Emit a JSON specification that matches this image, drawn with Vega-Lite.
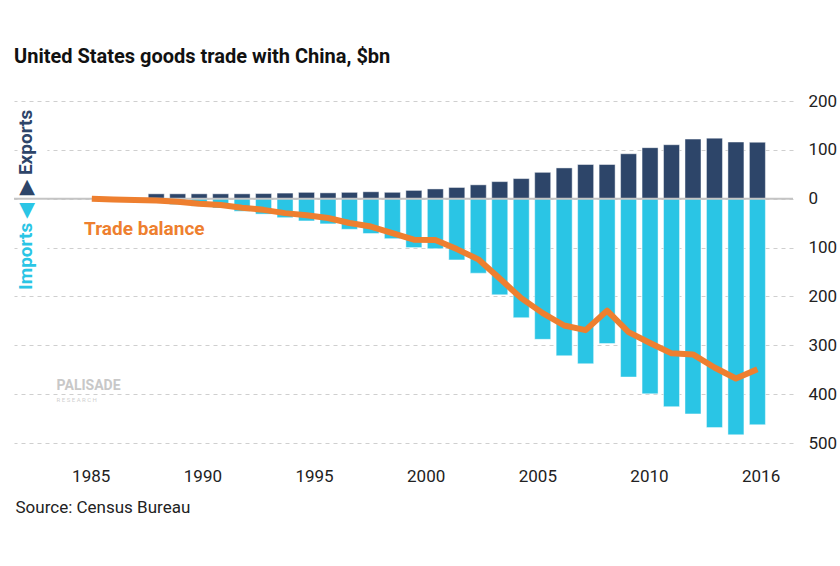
{
  "$schema": "https://vega.github.io/schema/vega-lite/v6.json",
  "autosize": "none",
  "width": 779,
  "height": 342,
  "padding": {"left": 14, "top": 101, "right": 47, "bottom": 123},
  "background": "white",
  "config": {"view": {"stroke": null}, "font": "Roboto"},
  "title": {"text": "United States goods trade with China, $bn", "anchor": "start", "fontSize": 20, "fontWeight": "bold", "font": "Roboto", "color": "#111111", "offset": 25, "dx": 1},
  "data": {"values": [
    {"year": 1985, "exports": null, "imports": null, "balance": -0.1},
    {"year": 1986, "exports": null, "imports": null, "balance": -1.7},
    {"year": 1987, "exports": null, "imports": null, "balance": -2.8},
    {"year": 1988, "exports": 10, "imports": -8.5, "balance": -3.5},
    {"year": 1989, "exports": 10, "imports": -12.0, "balance": -6.2},
    {"year": 1990, "exports": 10, "imports": -15.2, "balance": -10.4},
    {"year": 1991, "exports": 10, "imports": -19.0, "balance": -12.7},
    {"year": 1992, "exports": 10, "imports": -25.7, "balance": -18.3},
    {"year": 1993, "exports": 10.5, "imports": -31.5, "balance": -22.8},
    {"year": 1994, "exports": 11.5, "imports": -38.8, "balance": -29.5},
    {"year": 1995, "exports": 13, "imports": -45.5, "balance": -33.8},
    {"year": 1996, "exports": 12, "imports": -51.5, "balance": -39.5},
    {"year": 1997, "exports": 13, "imports": -62.6, "balance": -49.7},
    {"year": 1998, "exports": 14.2, "imports": -71.2, "balance": -56.9},
    {"year": 1999, "exports": 13.1, "imports": -81.8, "balance": -70.5},
    {"year": 2000, "exports": 17, "imports": -100.0, "balance": -83.8},
    {"year": 2001, "exports": 20, "imports": -102.3, "balance": -84.5},
    {"year": 2002, "exports": 23, "imports": -125.2, "balance": -103.1},
    {"year": 2003, "exports": 28.4, "imports": -152.4, "balance": -124.1},
    {"year": 2004, "exports": 35, "imports": -196.7, "balance": -163.5},
    {"year": 2005, "exports": 41.2, "imports": -243.5, "balance": -203.5},
    {"year": 2006, "exports": 54, "imports": -287.8, "balance": -234.1},
    {"year": 2007, "exports": 63, "imports": -321.4, "balance": -259.5},
    {"year": 2008, "exports": 70, "imports": -337.8, "balance": -269.0},
    {"year": 2009, "exports": 70, "imports": -296.4, "balance": -229.0},
    {"year": 2010, "exports": 92, "imports": -365.0, "balance": -273.0},
    {"year": 2011, "exports": 104.5, "imports": -399.4, "balance": -295.3},
    {"year": 2012, "exports": 110.5, "imports": -425.6, "balance": -316.5},
    {"year": 2013, "exports": 122, "imports": -440.4, "balance": -318.7},
    {"year": 2014, "exports": 124, "imports": -468.5, "balance": -345.5},
    {"year": 2015, "exports": 116, "imports": -483.2, "balance": -368.0},
    {"year": 2016, "exports": 115.6, "imports": -462.6, "balance": -349.0}
  ]},
  "layer": [
    {
      "mark": {"type": "bar", "width": 16, "color": "#2d4569", "stroke": "#ffffff", "strokeOpacity": 0.45, "strokeWidth": 1},
      "encoding": {
        "x": {"field": "year", "type": "quantitative",
          "scale": {"domain": [1981.609, 2017.425], "nice": false, "zero": false},
          "axis": {
            "values": [1984.95, 1990.15, 1995.35, 2000.55, 2005.75, 2010.95, 2016.15],
            "labelExpr": "['1985','1990','1995','2000','2005','2010','2016'][round((datum.value-1984.95)/5.2)]",
            "labelFontSize": 17, "labelColor": "#222222", "labelFont": "Roboto", "labelPadding": 25, "labelBaseline": "top",
            "ticks": false, "domain": false, "grid": false,
            "title": "Source: Census Bureau", "titleFontSize": 17, "titleFontWeight": "normal", "titleColor": "#222222", "titleFont": "Roboto",
            "titleAnchor": "start", "titleAlign": "left", "titleX": 1, "titleY": 64, "titleBaseline": "middle"
          }
        },
        "y": {"field": "exports", "type": "quantitative",
          "scale": {"domain": [-500, 200], "nice": false, "zero": false},
          "axis": {
            "orient": "right", "values": [-500, -400, -300, -200, -100, 0, 100, 200],
            "labelExpr": "format(abs(datum.value), 'd')",
            "grid": true, "gridDash": [4, 4], "gridColor": "#cfcfcf", "gridWidth": 1,
            "domain": false, "ticks": false, "labelPadding": 15, "labelFontSize": 17, "labelColor": "#222222", "labelFont": "Roboto",
            "title": null
          }
        }
      }
    },
    {
      "mark": {"type": "bar", "width": 16, "color": "#2ac5e5", "stroke": "#ffffff", "strokeOpacity": 0.45, "strokeWidth": 1},
      "encoding": {
        "x": {"field": "year", "type": "quantitative"},
        "y": {"field": "imports", "type": "quantitative"}
      }
    },
    {
      "data": {"values": [{}]},
      "mark": {"type": "rect", "color": "#ffffff"},
      "encoding": {
        "x": {"datum": 1981.609},
        "x2": {"datum": 1982.93},
        "y": {"datum": -190},
        "y2": {"datum": 185}
      }
    },
    {
      "data": {"values": [{}]},
      "mark": {"type": "rule", "color": "#c4c4c4", "strokeWidth": 2},
      "encoding": {"y": {"datum": 0}}
    },
    {
      "mark": {"type": "line", "color": "#ee7f2f", "strokeWidth": 6, "strokeCap": "butt", "strokeJoin": "round"},
      "encoding": {
        "x": {"field": "year", "type": "quantitative"},
        "y": {"field": "balance", "type": "quantitative"}
      }
    },
    {
      "data": {"values": [{}]},
      "mark": {"type": "text", "text": "▶ Exports", "angle": 270, "align": "left", "baseline": "middle", "fontSize": 19, "fontWeight": "bold", "color": "#2d4569"},
      "encoding": {"x": {"datum": 1981.92}, "y": {"datum": 8}}
    },
    {
      "data": {"values": [{}]},
      "mark": {"type": "text", "text": "Imports ◀", "angle": 270, "align": "right", "baseline": "middle", "fontSize": 19, "fontWeight": "bold", "color": "#2ac5e5"},
      "encoding": {"x": {"datum": 1981.95}, "y": {"datum": -9}}
    },
    {
      "data": {"values": [{}]},
      "mark": {"type": "text", "text": "Trade balance", "align": "left", "baseline": "middle", "fontSize": 19, "fontWeight": "bold", "color": "#ee7f2f"},
      "encoding": {"x": {"datum": 1984.64}, "y": {"datum": -61}}
    },
    {
      "data": {"values": [{}]},
      "mark": {"type": "text", "text": "PALISADE", "align": "left", "baseline": "middle", "fontSize": 14, "fontWeight": "bold", "color": "#c8c8c8"},
      "encoding": {"x": {"datum": 1983.36}, "y": {"datum": -384}}
    },
    {
      "data": {"values": [{}]},
      "mark": {"type": "text", "text": "R E S E A R C H", "align": "left", "baseline": "middle", "fontSize": 6, "color": "#d0d0d0"},
      "encoding": {"x": {"datum": 1983.36}, "y": {"datum": -412}}
    }
  ]
}
